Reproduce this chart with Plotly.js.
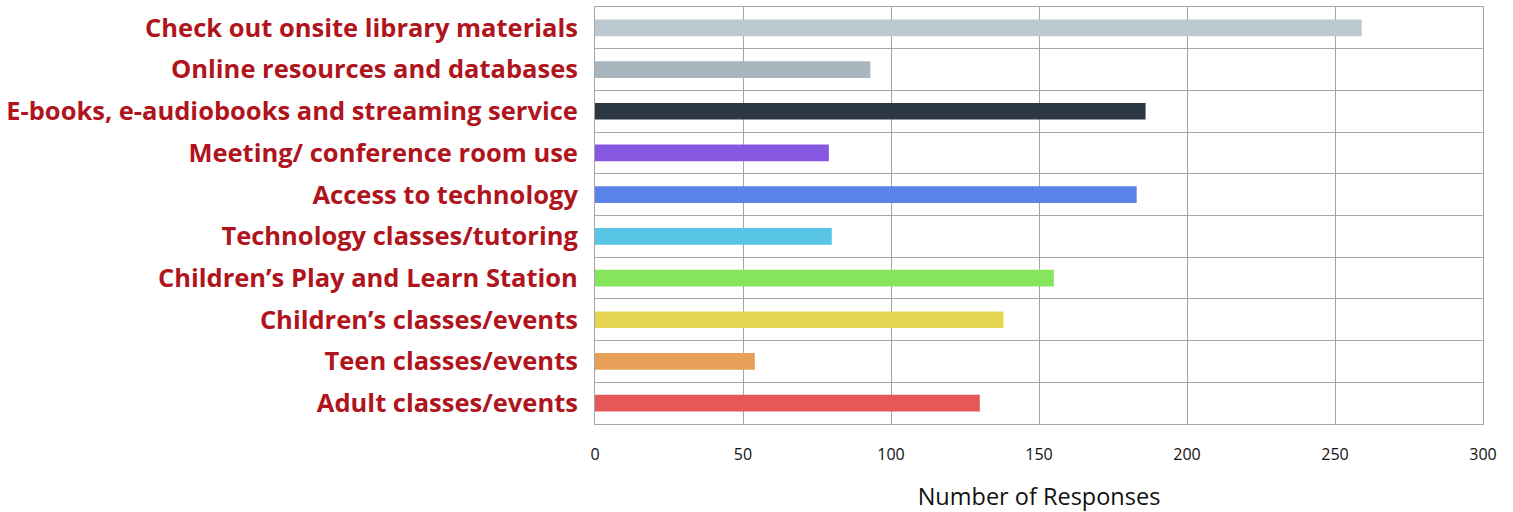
<!DOCTYPE html>
<html>
<head>
<meta charset="utf-8">
<script src="https://cdn.plot.ly/plotly-3.0.1.min.js"></script>
<style>html,body{margin:0;padding:0;background:#fff;}#chart{width:1513px;height:512px;}</style>
</head>
<body>
<div id="chart"></div>
<script>
const categories = [
  "Check out onsite library materials",
  "Online resources and databases",
  "E-books, e-audiobooks and streaming service",
  "Meeting/ conference room use",
  "Access to technology",
  "Technology classes/tutoring",
  "Children\u2019s Play and Learn Station",
  "Children\u2019s classes/events",
  "Teen classes/events",
  "Adult classes/events"
];
const responses = [259, 93, 186, 79, 183, 80, 155, 138, 54, 130];
const barColors = ["#bcc9d0", "#aab6bd", "#2b3742", "#8658e2", "#5983e6", "#58c4e6", "#86e55a", "#e4d652", "#e6a057", "#e55858"];
const xTicks = [0, 50, 100, 150, 200, 250, 300];

const trace = {
  type: "bar",
  orientation: "h",
  y: categories,
  x: responses,
  width: 0.4,
  marker: {color: barColors},
  hoverinfo: "x+y"
};

const layout = {
  width: 1513,
  height: 512,
  margin: {l: 595, r: 30, t: 7, b: 88},
  paper_bgcolor: "#fff",
  plot_bgcolor: "#fff",
  showlegend: false,
  xaxis: {
    range: [0, 300],
    tickvals: xTicks,
    ticktext: xTicks.map(String),
    showgrid: true,
    gridcolor: "#a6a6a6",
    gridwidth: 1,
    zeroline: false,
    showline: true,
    linecolor: "#a6a6a6",
    mirror: true,
    ticks: "",
    ticklabelstandoff: 16,
    tickfont: {family: "'Open Sans', sans-serif", size: 16, color: "#111"},
    title: {text: "Number of Responses", font: {family: "'Open Sans', sans-serif", size: 23.5, color: "#111"}, standoff: 24}
  },
  yaxis: {
    type: "category",
    autorange: "reversed",
    tickson: "boundaries",
    showgrid: true,
    gridcolor: "#a6a6a6",
    gridwidth: 1,
    showline: true,
    linecolor: "#a6a6a6",
    mirror: true,
    ticks: "",
    ticklabelstandoff: 11,
    tickfont: {family: "'Open Sans', sans-serif", size: 25.5, color: "#b0141c", weight: "bold"}
  }
};

Plotly.newPlot("chart", [trace], layout, {displayModeBar: false, staticPlot: true});
</script>
</body>
</html>
